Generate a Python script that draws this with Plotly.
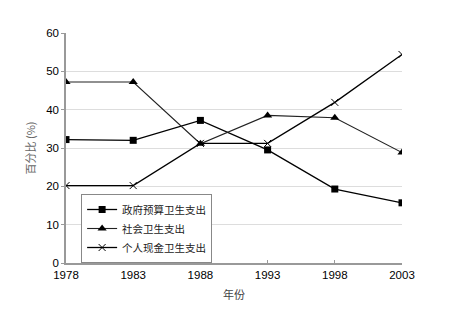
import plotly.graph_objects as go

years = [1978, 1983, 1988, 1993, 1998, 2003]
gov = [32.2, 32.0, 37.2, 29.5, 19.3, 15.7]
social = [47.2, 47.2, 31.1, 38.5, 37.9, 28.8]
personal = [20.2, 20.2, 31.2, 31.2, 41.9, 54.4]
names = ["政府预算卫生支出", "社会卫生支出", "个人现金卫生支出"]
y_ticks = [0, 10, 20, 30, 40, 50, 60]

FONT = "Liberation Sans, Arial, Noto Sans CJK SC"

fig = go.Figure()
fig.add_trace(go.Scatter(x=years, y=gov, name=names[0], mode="lines+markers",
                         line=dict(color="black", width=1.3),
                         marker=dict(symbol="square", size=7, color="black")))
fig.add_trace(go.Scatter(x=years, y=social, name=names[1], mode="lines+markers",
                         line=dict(color="#222", width=1.1),
                         marker=dict(symbol="triangle-up", size=8, color="black")))
fig.add_trace(go.Scatter(x=years, y=personal, name=names[2], mode="lines+markers",
                         line=dict(color="black", width=1.3),
                         marker=dict(symbol="x-thin-open", size=7,
                                     line=dict(color="black", width=1))))

fig.update_layout(
    width=450, height=318,
    margin=dict(l=66, r=48, t=33, b=55),
    paper_bgcolor="white", plot_bgcolor="white",
    font=dict(family=FONT, size=11, color="black"),
    showlegend=True,
    legend=dict(x=0.045, y=0.30, xanchor="left", yanchor="top",
                bordercolor="#888", borderwidth=1, bgcolor="white",
                font=dict(family="Noto Sans CJK SC", size=10.5, color="#222"),
                tracegroupgap=0, itemwidth=30),
    xaxis=dict(range=[1978, 2003], tickvals=years, ticktext=[str(y) for y in years],
               showgrid=False, zeroline=False, showline=True, linecolor="#999",
               linewidth=1.5, ticks="inside", ticklen=3, tickcolor="#999",
               tickfont=dict(size=11.5, color="black"),
               title=dict(text="年份", font=dict(family="Noto Sans CJK SC", size=11, color="#444"),
                          standoff=12)),
    yaxis=dict(range=[0, 60], tickvals=y_ticks, showgrid=True, gridcolor="#ddd",
               gridwidth=1, zeroline=False, showline=True, linecolor="#999",
               linewidth=1.5, ticks="outside", ticklen=3, tickcolor="#999",
               tickfont=dict(size=11.5, color="black"),
               title=dict(text="百分比 (%)", font=dict(family="Noto Sans CJK SC", size=11, color="#666666"),
                          standoff=8)),
)

fig.write_html("out.html")
